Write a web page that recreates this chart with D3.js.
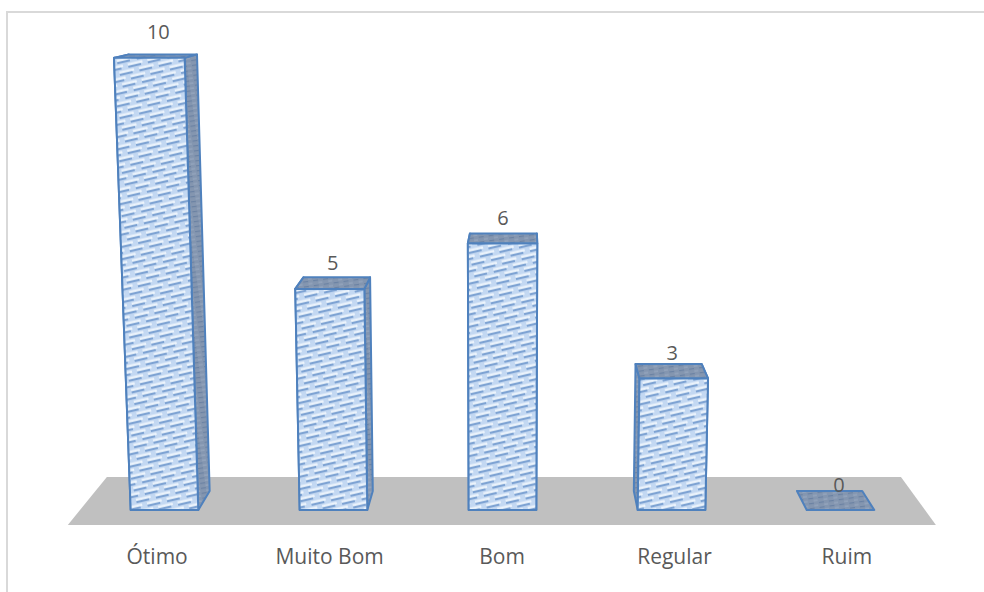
<!DOCTYPE html>
<html>
<head>
<meta charset="utf-8">
<script src="https://cdn.jsdelivr.net/npm/d3@7"></script>
<style>
  html, body { margin: 0; background: #fff; }
  text { font-family: "Open Sans", sans-serif; fill: #595959; }
</style>
</head>
<body>
<svg id="chart"></svg>
<script>
var w_chart = 984; // SVG canvas size
var h_chart = 592;

var categories = ["Ótimo", "Muito Bom", "Bom", "Regular", "Ruim"];
var values = [10, 5, 6, 3, 0];

var y_base = 510;      // Screen y of the front edge of the bar bases
var vp_height = [500, 10500]; // Vanishing point of the vertical edges
var vp_depth = [526, -38];    // Vanishing point of the receding edges
var k_height = 0.0001; // Perspective strength along the height
var bar_depth = 0.0359;
var floor_back = 0.0641;
var floor_front = -0.0266;
var label_lift = 1.036; // Value labels float a little over the bar
var cat_depth = -0.02;  // Category labels sit in front of the floor

var x = d3.scaleBand().domain(categories).range([80, 925]).paddingInner(0.6).paddingOuter(0.3);
var y = d3.scaleLinear().domain([0, 10]).range([0, 433]);

// Three point perspective: px along the base, h up, d into the depth
function project(px, h, d) {
  var t = -h * k_height;
  var w = 1 + t + d;
  return [(px + t * vp_height[0] + d * vp_depth[0]) / w,
          (y_base + t * vp_height[1] + d * vp_depth[1]) / w];
}

function poly(pts) {
  return pts.map(function(p) { return project(p[0], p[1], p[2]).join(","); }).join(" ");
}

function xMid(c) {
  return x(c) + x.bandwidth() / 2;
}

var svg = d3.select("#chart").attr("width", w_chart).attr("height", h_chart).style("display", "block");
var defs = svg.append("defs");

// Shingle hatch of the bar fronts: two offset rows of dashes
var hatch = defs.append("pattern").attr("id", "hatch").attr("patternUnits", "userSpaceOnUse")
  .attr("width", 20).attr("height", 12).attr("patternTransform", "rotate(-13)");
hatch.append("rect").attr("width", 20).attr("height", 12).attr("fill", "#c3d8f2");
[[0, 0.5], [10, 6.5], [-10, 6.5]].forEach(function(o) {
  hatch.append("rect").attr("x", o[0]).attr("y", o[1]).attr("width", 15).attr("height", 2.4).attr("fill", "#eef5fd");
  hatch.append("rect").attr("x", o[0]).attr("y", o[1] + 2.4).attr("width", 13).attr("height", 2.2).attr("fill", "#7ea3d3");
});

// Same hatch, darkened, for the top and side faces
var hatchDark = defs.append("pattern").attr("id", "hatch-dark").attr("patternUnits", "userSpaceOnUse")
  .attr("width", 10).attr("height", 5).attr("patternTransform", "rotate(-8)");
hatchDark.append("rect").attr("width", 10).attr("height", 5).attr("fill", "#8496b0");
hatchDark.append("rect").attr("x", 1).attr("y", 1).attr("width", 5).attr("height", 1.2).attr("fill", "#6b82a3");
hatchDark.append("rect").attr("x", 6).attr("y", 3.5).attr("width", 4).attr("height", 1.2).attr("fill", "#98a9c0");

// Chart frame, open towards the right and the bottom
svg.append("path").attr("d", d3.line()([[7, h_chart], [7, 12], [w_chart, 12]]))
  .attr("fill", "none").attr("stroke", "#d9d9d9").attr("stroke-width", 2);

// Floor
svg.append("polygon")
  .attr("points", poly([[x.range()[0], 0, floor_front], [x.range()[0], 0, floor_back],
                        [x.range()[1], 0, floor_back], [x.range()[1], 0, floor_front]]))
  .attr("fill", "#c0c0c0");

// Each bar is a little box: sides first, then top, then the front
var bars = svg.append("g").attr("id", "bars").selectAll("g").data(values).enter().append("g");

function addFace(sel, corners, fill) {
  sel.append("polygon")
    .attr("points", corners)
    .attr("fill", fill)
    .attr("stroke", "#4f81bd")
    .attr("stroke-width", 2)
    .attr("stroke-linejoin", "round");
}

bars.each(function(val, i) {
  var g = d3.select(this);
  var x0 = x(categories[i]);
  var x1 = x0 + x.bandwidth();
  var h = y(val);
  var d = bar_depth;
  if (val > 0) {
    addFace(g, poly([[x0, 0, 0], [x0, 0, d], [x0, h, d], [x0, h, 0]]), "url(#hatch-dark)");
    addFace(g, poly([[x1, 0, 0], [x1, 0, d], [x1, h, d], [x1, h, 0]]), "url(#hatch-dark)");
  }
  addFace(g, poly([[x0, h, 0], [x0, h, d], [x1, h, d], [x1, h, 0]]), "url(#hatch-dark)");
  if (val > 0) {
    addFace(g, poly([[x0, 0, 0], [x1, 0, 0], [x1, h, 0], [x0, h, 0]]), "url(#hatch)");
  }
});

// Value labels, drifting towards the centre as the bars get taller
svg.append("g").attr("id", "value-labels").selectAll("text").data(values).enter().append("text")
  .text(function(val) { return val; })
  .attr("text-anchor", "middle")
  .attr("font-size", 20)
  .attr("x", function(val, i) { return project(xMid(categories[i]), y(val) * label_lift, 0.005 + 0.002 * val)[0]; })
  .attr("y", function(val) { return project(0, y(val) * label_lift, bar_depth)[1] + 1; });

// Category labels under the floor
svg.append("g").attr("id", "cat-labels").selectAll("text").data(categories).enter().append("text")
  .text(function(c) { return c; })
  .attr("text-anchor", "middle")
  .attr("font-size", 21)
  .attr("x", function(c) { return project(xMid(c), 0, cat_depth)[0]; })
  .attr("y", 564);
</script>
</body>
</html>
